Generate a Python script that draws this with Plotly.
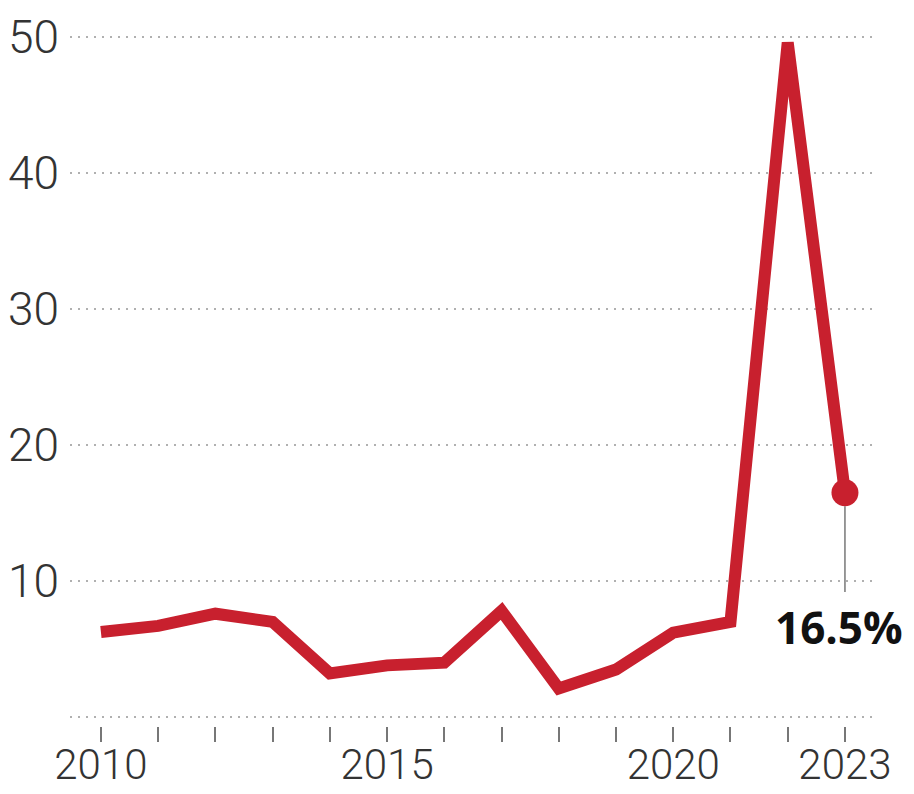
import plotly.graph_objects as go

years = list(range(2010, 2024))
values = [6.25, 6.7, 7.6, 7.0, 3.2, 3.8, 4.0, 7.8, 2.1, 3.5, 6.2, 7.0, 49.6, 16.5]

y_ticks = [0, 10, 20, 30, 40, 50]
y_ticktext = ["", "10", "20", "30", "40", "50"]
x_ticks = years
x_ticktext = ["2010", "", "", "", "", "2015", "", "", "", "", "2020", "", "", "2023"]

last_label = "16.5%"

RED = "#c8202e"

fig = go.Figure()
fig.add_trace(go.Scatter(
    x=years, y=values, mode="lines",
    line=dict(color=RED, width=12, shape="linear"),
    hoverinfo="skip", showlegend=False,
))
fig.add_trace(go.Scatter(
    x=[years[-1]], y=[values[-1]], mode="markers",
    marker=dict(color=RED, size=27),
    hoverinfo="skip", showlegend=False, cliponaxis=False,
))

fig.add_shape(type="line", xref="x", yref="y",
              x0=years[-1], x1=years[-1], y0=15.5, y1=9.2,
              line=dict(color="#555555", width=1.2))

fig.add_annotation(x=years[-1], y=values[-1], text="<b>" + last_label + "</b>",
                   showarrow=False, xanchor="center", yanchor="middle",
                   xshift=-6, yshift=-134,
                   font=dict(family="Open Sans, Roboto, Arial", size=44, color="#111111"))

fig.update_layout(
    width=914, height=794,
    margin=dict(l=70, r=41, t=10, b=68, autoexpand=False),
    paper_bgcolor="white", plot_bgcolor="white",
    xaxis=dict(
        range=[2009.46, 2023.49], automargin=False,
        tickmode="array", tickvals=x_ticks, ticktext=x_ticktext,
        ticks="outside", ticklen=15, tickwidth=1.5, tickcolor="#777777",
        showgrid=False, zeroline=False, showline=False,
        tickfont=dict(family="Roboto", size=42, color="#333333", weight=300),
        ticklabelstandoff=-13,
    ),
    yaxis=dict(
        range=[-0.66, 52], automargin=False,
        tickmode="array", tickvals=y_ticks, ticktext=y_ticktext,
        showgrid=True, gridcolor="#b0b0b0", griddash="2px,6px", gridwidth=2,
        zeroline=False, showline=False, ticks="",
        tickfont=dict(family="Roboto", size=46, color="#333333", weight=300),
        ticklabelstandoff=10,
    ),
)

fig.write_html("out.html")
